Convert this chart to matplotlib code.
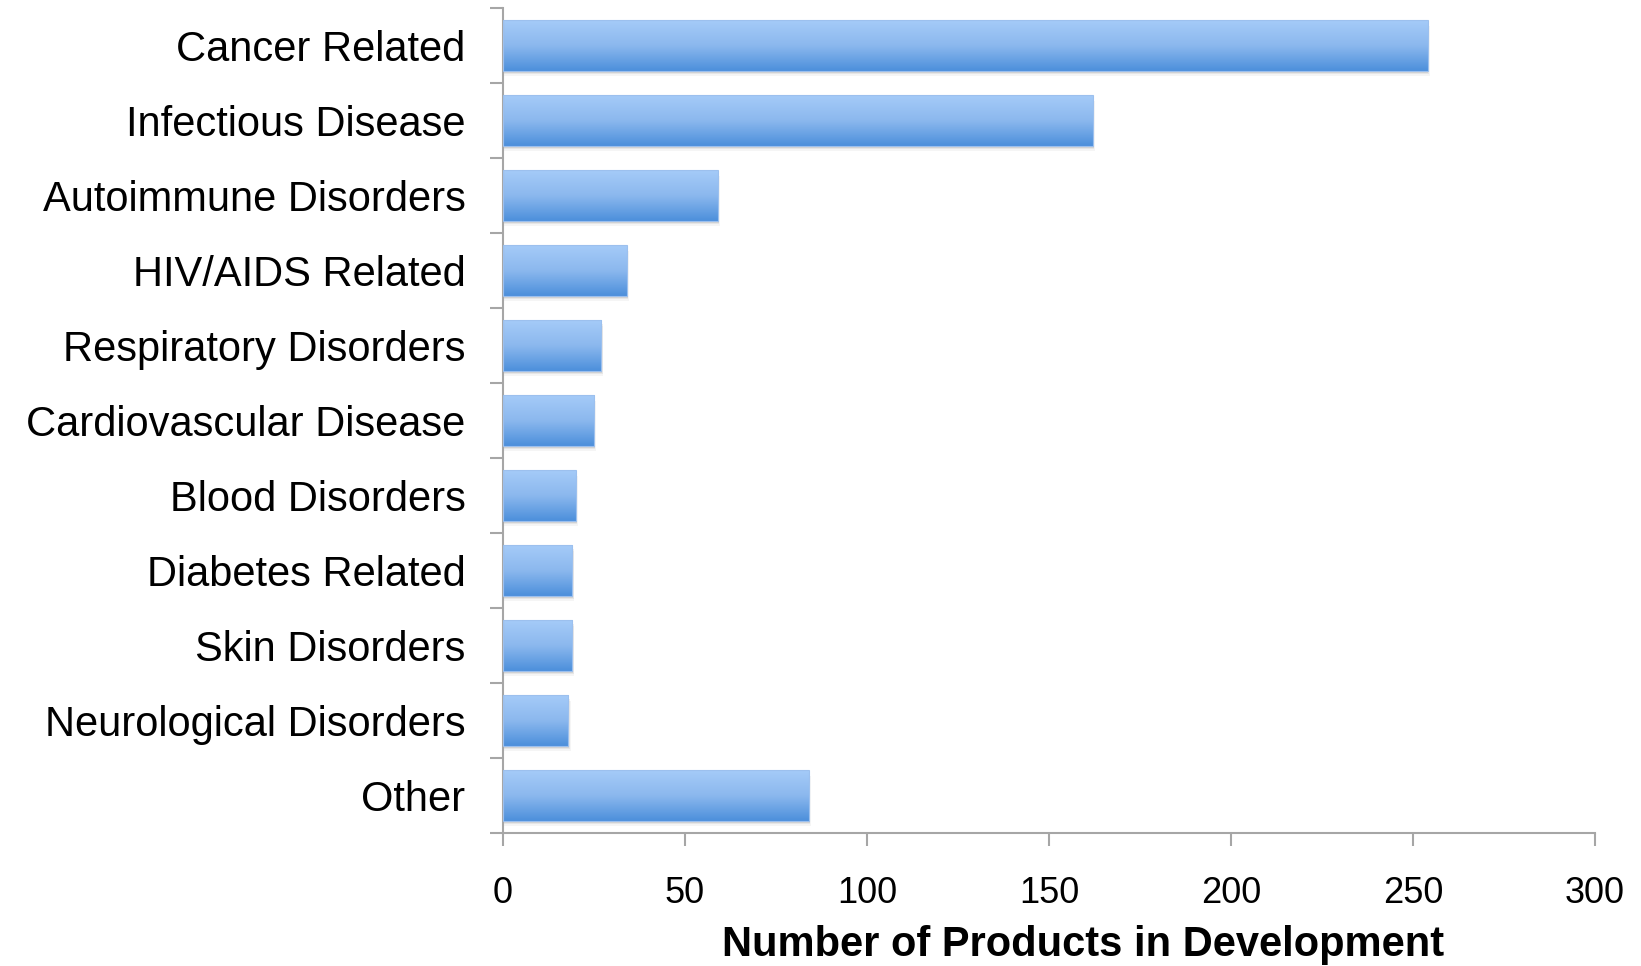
import numpy as np

import matplotlib
matplotlib.use("Agg")
import matplotlib.pyplot as plt
import matplotlib.patches as mpatches
from matplotlib.colors import LinearSegmentedColormap

plt.rcParams['font.family'] = ['Liberation Sans', 'DejaVu Sans']

categories = ["Cancer Related", "Infectious Disease", "Autoimmune Disorders",
              "HIV/AIDS Related", "Respiratory Disorders", "Cardiovascular Disease",
              "Blood Disorders", "Diabetes Related", "Skin Disorders",
              "Neurological Disorders", "Other"]
values = [254, 162, 59, 34, 27, 25, 20, 19, 19, 18, 84]
xticks = [0, 50, 100, 150, 200, 250, 300]
xlabel = "Number of Products in Development"

spineColor = "#a6a6a6"
barHeight = 0.67
gradCmap = LinearSegmentedColormap.from_list("bar", ["#a5cbf8", "#8bb8ee", "#4c8fdb"])

fig = plt.figure(figsize=(16.41, 9.66), dpi=100)
ax = fig.add_axes([0.3065, 0.1377, 0.6655, 0.854])

ypos = np.arange(len(categories))
bars = ax.barh(ypos, values, height=barHeight, facecolor="none",
               edgecolor="#9cc0ee", linewidth=0.8, zorder=3)

grad = np.linspace(0, 1, 256).reshape(-1, 1)
for bar, y, v in zip(bars, ypos, values):
    # soft shadow under each bar
    for k, a in zip([0.07, 0.05, 0.03], [0.08, 0.12, 0.18]):
        sh = mpatches.Rectangle((0, y - barHeight / 2 + k), v + k * 8, barHeight,
                                facecolor="#808080", edgecolor="none", alpha=a, zorder=1)
        ax.add_patch(sh)
    im = ax.imshow(grad, extent=[0, v, y + barHeight / 2, y - barHeight / 2],
                   origin="upper", aspect="auto", cmap=gradCmap, zorder=2)
    im.set_clip_path(bar)

ax.set_xlim(0, 300)
ax.set_ylim(len(categories) - 0.5, -0.5)

ax.set_xticks(xticks)
ax.set_xticklabels([str(t) for t in xticks], fontsize=26)
ax.set_yticks(ypos)
ax.set_yticklabels(categories, fontsize=30)
ax.set_yticks(np.arange(len(categories) + 1) - 0.5, minor=True)

ax.tick_params(axis="y", which="major", length=0, pad=27)
ax.tick_params(axis="y", which="minor", length=9.5, width=1.5, color=spineColor)
ax.tick_params(axis="x", which="major", length=9, width=1.5, color=spineColor, pad=22)

for side in ["top", "right"]:
    ax.spines[side].set_visible(False)
for side in ["left", "bottom"]:
    ax.spines[side].set_color(spineColor)
    ax.spines[side].set_linewidth(1.5)

ax.set_xlabel(xlabel, fontsize=30, fontweight="bold")
ax.xaxis.set_label_coords(0.531, -0.112)

fig.savefig("out.png", dpi=100)
